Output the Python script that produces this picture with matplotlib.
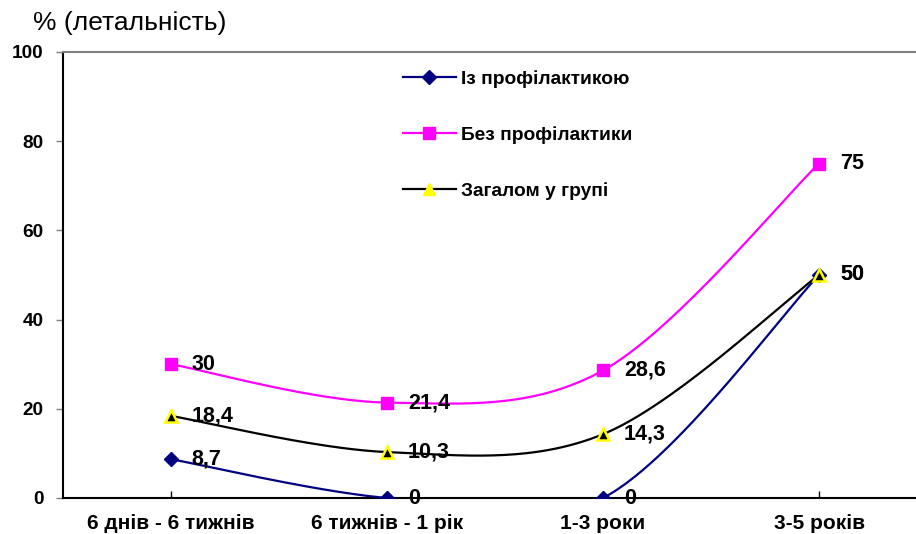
import numpy as np
import matplotlib
matplotlib.use("Agg")
import matplotlib.pyplot as plt
from matplotlib.lines import Line2D

plt.rcParams['font.family'] = ['Liberation Sans', 'DejaVu Sans']

categories = ["6 днів - 6 тижнів", "6 тижнів - 1 рік", "1-3 роки", "3-5 років"]
with_prophylaxis = [8.7, 0, 0, 50]
without_prophylaxis = [30, 21.4, 28.6, 75]
overall = [18.4, 10.3, 14.3, 50]
labels_with = ["8,7", "0", "0", "50"]
labels_without = ["30", "21,4", "28,6", "75"]
labels_overall = ["18,4", "10,3", "14,3", "50"]
series_names = ["Із профілактикою", "Без профілактики", "Загалом у групі"]
y_ticks = [0, 20, 40, 60, 80, 100]
y_label = "% (летальність)"


def smooth(xs, ys, n=60):
    xs = np.asarray(xs, float)
    ys = np.asarray(ys, float)
    px = np.concatenate([[xs[0]], xs, [xs[-1]]])
    py = np.concatenate([[ys[0]], ys, [ys[-1]]])
    out_x, out_y = [], []
    t = np.linspace(0, 1, n)
    for i in range(1, len(px) - 2):
        p0 = np.array([px[i], py[i]])
        p3 = np.array([px[i + 1], py[i + 1]])
        c1 = p0 + (np.array([px[i + 1], py[i + 1]]) - np.array([px[i - 1], py[i - 1]])) / 6
        c2 = p3 - (np.array([px[i + 2], py[i + 2]]) - np.array([px[i], py[i]])) / 6
        b = ((1 - t) ** 3)[:, None] * p0 + (3 * (1 - t) ** 2 * t)[:, None] * c1 \
            + (3 * (1 - t) * t ** 2)[:, None] * c2 + (t ** 3)[:, None] * p3
        out_x.extend(b[:, 0])
        out_y.extend(b[:, 1])
    return out_x, out_y


fig = plt.figure(figsize=(9.16, 5.34), dpi=100)
ax = fig.add_axes([63 / 916, 36 / 534, 864 / 916, 446 / 534])

x = np.arange(len(categories))
lw = 1.6

specs = [
    (with_prophylaxis, labels_with, '#000080', dict(marker='D', ms=7, mfc='#000080', mec='#000080', mew=1)),
    (without_prophylaxis, labels_without, '#FF00FF', dict(marker='s', ms=8.5, mfc='#FF00FF', mec='#FF00FF', mew=1)),
    (overall, labels_overall, '#000000', dict(marker='^', ms=8, mfc='#000000', mec='#FFFF00', mew=1.8)),
]

for vals, labs, col, mk in specs:
    sx, sy = smooth(x, vals)
    ax.plot(sx, sy, color=col, lw=lw, zorder=3)
    ax.plot(x, vals, linestyle='none', zorder=4, **mk)
    for xi, yi, lab in zip(x, vals, labs):
        ax.annotate(lab, (xi, yi), xytext=(15, 0), textcoords='offset points',
                    ha='left', va='center', fontsize=15.5, fontweight='bold', zorder=5)

ax.set_xlim(-0.5, 3.5)
ax.set_ylim(0, 100)
ax.set_yticks(y_ticks)
ax.set_yticklabels([str(v) for v in y_ticks], fontsize=13.7, fontweight='bold')
ax.set_xticks(x)
ax.set_xticklabels(categories, fontsize=15, fontweight='bold')
ax.tick_params(axis='y', direction='out', length=5, width=1, color='#808080', pad=9)
ax.tick_params(axis='x', direction='in', length=5, width=1, color='#000000', pad=11.5)

ax.spines['top'].set_color('#808080')
ax.spines['top'].set_linewidth(1.5)
ax.spines['right'].set_visible(False)
ax.spines['left'].set_color('black')
ax.spines['left'].set_linewidth(1.5)
ax.spines['bottom'].set_color('black')
ax.spines['bottom'].set_linewidth(1.5)

handles = [
    Line2D([], [], color='#000080', lw=lw, marker='D', ms=7, mfc='#000080', mec='#000080'),
    Line2D([], [], color='#FF00FF', lw=lw, marker='s', ms=8.5, mfc='#FF00FF', mec='#FF00FF'),
    Line2D([], [], color='#000000', lw=lw, marker='^', ms=9, mfc='#FFFF00', mec='#FFFF00'),
]
leg = ax.legend(handles, series_names, loc='upper left', bbox_to_anchor=(403 / 916, 1 - 70 / 534),
                bbox_transform=fig.transFigure, frameon=False, prop={'weight': 'bold', 'size': 13.8},
                handlelength=2.75, handletextpad=0.3, labelspacing=2.0, borderpad=0, borderaxespad=0)

fig.text(33 / 916, 1 - 23 / 534, y_label, fontsize=19, ha='left', va='center')

fig.savefig('out.png', dpi=100)
